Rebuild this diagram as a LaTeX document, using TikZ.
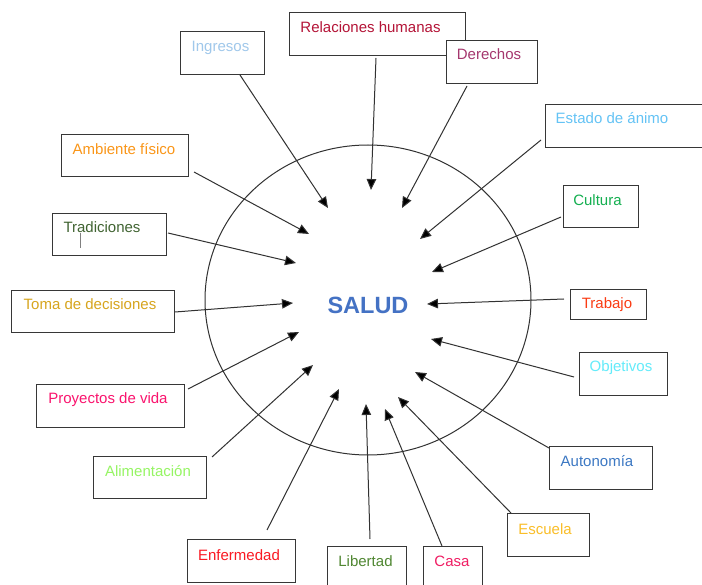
\documentclass[tikz,border=0pt]{standalone}
\usepackage{fontspec}
\setmainfont{Liberation Sans}
\usetikzlibrary{arrows.meta}

% label colours
\definecolor{cIng}{RGB}{160,200,235}
\definecolor{cRel}{RGB}{180,20,55}
\definecolor{cDer}{RGB}{165,55,110}
\definecolor{cEst}{RGB}{100,195,245}
\definecolor{cCul}{RGB}{20,175,80}
\definecolor{cTra}{RGB}{250,60,20}
\definecolor{cObj}{RGB}{100,235,250}
\definecolor{cAut}{RGB}{60,120,195}
\definecolor{cEsc}{RGB}{250,190,40}
\definecolor{cCas}{RGB}{240,30,100}
\definecolor{cLib}{RGB}{80,135,50}
\definecolor{cEnf}{RGB}{250,25,35}
\definecolor{cAli}{RGB}{150,245,100}
\definecolor{cPro}{RGB}{250,20,110}
\definecolor{cTom}{RGB}{215,165,30}
\definecolor{cTrd}{RGB}{65,100,50}
\definecolor{cAmb}{RGB}{250,150,25}
\definecolor{cSalud}{RGB}{68,114,196}
\definecolor{boxgray}{RGB}{55,55,55}
\definecolor{linkgray}{RGB}{50,50,50}

\begin{document}
\begin{tikzpicture}[x=1pt,y=-1pt,
  box/.style={draw=boxgray, line width=1.1pt, fill=white, inner sep=0pt, anchor=north west},
  lbl/.style={anchor=base, inner sep=0pt, font=\fontsize{15}{18}\selectfont},
  link/.style={draw=linkgray, line width=1pt, -{Triangle[length=11pt,width=9.5pt,fill=black]}}]

\useasboundingbox (0,0) rectangle (702,585);
\fill[white] (0,0) rectangle (702,585);

% central circle and title
\draw[line width=1pt, draw=linkgray] (368,300) ellipse [x radius=163pt, y radius=155pt];
\node[anchor=base, inner sep=0pt, text=cSalud, font=\fontsize{23.5}{28}\selectfont\bfseries] (salud) at (368,314) {SALUD};

% boxes
\node[box, minimum width=84pt,  minimum height=43pt] (ing) at (180,31) {};
\node[box, minimum width=176pt, minimum height=43pt] (rel) at (289,12) {};
\node[box, minimum width=91pt,  minimum height=43pt] (der) at (446,40) {};
\node[box, minimum width=160pt, minimum height=43pt] (est) at (545,104) {};
\node[box, minimum width=75pt,  minimum height=42pt] (cul) at (563,185) {};
\node[box, minimum width=76pt,  minimum height=30pt] (tra) at (570,289) {};
\node[box, minimum width=88pt,  minimum height=43pt] (obj) at (579,352) {};
\node[box, minimum width=103pt, minimum height=43pt] (aut) at (549,446) {};
\node[box, minimum width=82pt,  minimum height=43pt] (esc) at (507,513) {};
\node[box, minimum width=59pt,  minimum height=50pt] (cas) at (423,546) {};
\node[box, minimum width=79pt,  minimum height=50pt] (lib) at (327,546) {};
\node[box, minimum width=108pt, minimum height=43pt] (enf) at (187,539) {};
\node[box, minimum width=113pt, minimum height=42pt] (ali) at (93,456) {};
\node[box, minimum width=148pt, minimum height=43pt] (pro) at (36,384) {};
\node[box, minimum width=163pt, minimum height=42pt] (tom) at (11,290) {};
\node[box, minimum width=114pt, minimum height=42pt] (trd) at (52,213) {};
\node[box, minimum width=127pt, minimum height=42pt] (amb) at (61,134) {};

% labels
\node[lbl, text=cIng] (ing-t) at (220.5,52) {Ingresos};
\node[lbl, text=cRel] (rel-t) at (370.5,33) {Relaciones humanas};
\node[lbl, text=cDer] (der-t) at (489,60) {Derechos};
\node[lbl, text=cEst] (est-t) at (612,124) {Estado de ánimo};
\node[lbl, text=cCul] (cul-t) at (597.5,206) {Cultura};
\node[lbl, text=cTra] (tra-t) at (607,309) {Trabajo};
\node[lbl, text=cObj] (obj-t) at (621,372) {Objetivos};
\node[lbl, text=cAut] (aut-t) at (597,466) {Autonomía};
\node[lbl, text=cEsc] (esc-t) at (545,534) {Escuela};
\node[lbl, text=cCas] (cas-t) at (452,566) {Casa};
\node[lbl, text=cLib] (lib-t) at (365.5,566) {Libertad};
\node[lbl, text=cEnf] (enf-t) at (239,560) {Enfermedad};
\node[lbl, text=cAli] (ali-t) at (148,476) {Alimentación};
\node[lbl, text=cPro] (pro-t) at (108,404) {Proyectos de vida};
\node[lbl, text=cTom] (tom-t) at (90,310) {Toma de decisiones};
\node[lbl, text=cTrd] (trd-t) at (102,232.5) {Tradiciones};
\node[lbl, text=cAmb] (amb-t) at (124,155) {Ambiente físico};

% text cursor mark inside the Tradiciones box
\coordinate (cur-a) at (80,233);
\coordinate (cur-b) at (80,248);
\draw[draw=gray, line width=1pt] (cur-a) -- (cur-b);

% arrow ends: start next to each box, tip inside the circle
\coordinate (ing-s) at (240,75);   \coordinate (ing-e) at (328,208);
\coordinate (rel-s) at (376,58);   \coordinate (rel-e) at (371,190);
\coordinate (der-s) at (467,86);   \coordinate (der-e) at (402,208);
\coordinate (est-s) at (541,140);  \coordinate (est-e) at (420,239);
\coordinate (cul-s) at (561,217);  \coordinate (cul-e) at (432,272);
\coordinate (tra-s) at (564,299);  \coordinate (tra-e) at (427,304);
\coordinate (obj-s) at (574,377);  \coordinate (obj-e) at (431,339);
\coordinate (aut-s) at (549,448);  \coordinate (aut-e) at (415,372);
\coordinate (esc-s) at (511,513);  \coordinate (esc-e) at (398,397);
\coordinate (cas-s) at (442,546);  \coordinate (cas-e) at (385,409);
\coordinate (lib-s) at (370,539);  \coordinate (lib-e) at (366,404);
\coordinate (enf-s) at (267,530);  \coordinate (enf-e) at (339,389);
\coordinate (ali-s) at (212,457);  \coordinate (ali-e) at (313,365);
\coordinate (pro-s) at (188,389);  \coordinate (pro-e) at (299,332);
\coordinate (tom-s) at (175,312);  \coordinate (tom-e) at (293,303);
\coordinate (trd-s) at (168,233);  \coordinate (trd-e) at (296,263);
\coordinate (amb-s) at (194,172);  \coordinate (amb-e) at (309,234);

\foreach \n in {ing,rel,der,est,cul,tra,obj,aut,esc,cas,lib,enf,ali,pro,tom,trd,amb}
  \draw[link] (\n-s) -- (\n-e);

\end{tikzpicture}
\end{document}
